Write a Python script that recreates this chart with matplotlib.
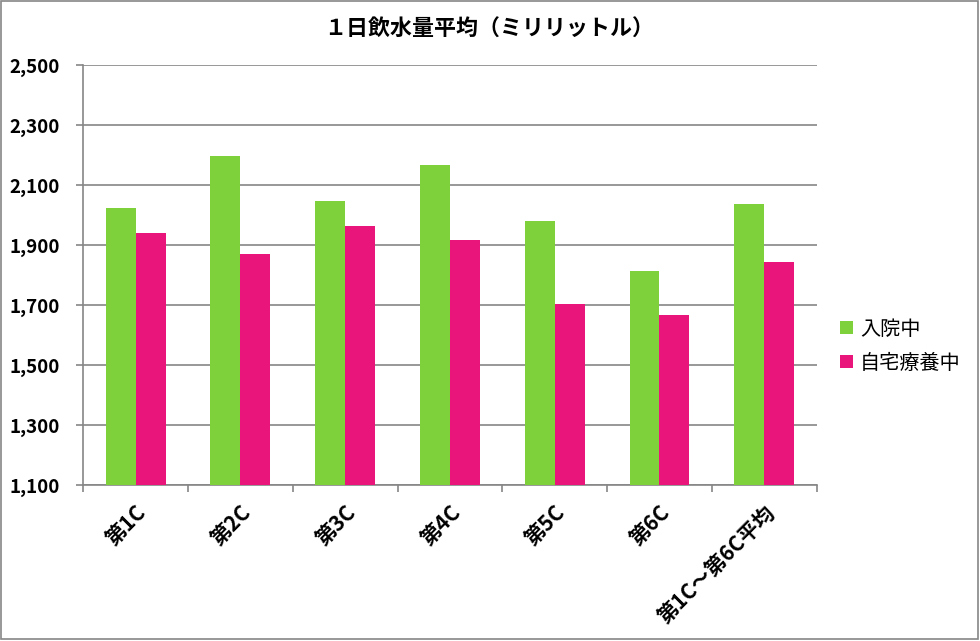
import matplotlib
matplotlib.use("Agg")
import matplotlib.pyplot as plt
import numpy as np
from matplotlib.patches import Rectangle

plt.rcParams['font.family'] = ['Noto Sans CJK JP', 'DejaVu Sans']

categories = ["第1C", "第2C", "第3C", "第4C", "第5C", "第6C", "第1C～第6C平均"]
nyuuin = [2024, 2197, 2047, 2167, 1981, 1814, 2037]
jitaku = [1941, 1870, 1964, 1917, 1704, 1667, 1844]
series_names = ["入院中", "自宅療養中"]
y_ticks = [1100, 1300, 1500, 1700, 1900, 2100, 2300, 2500]

GREEN = "#7FD13B"
PINK = "#EA157A"
GRID = "#868686"

fig = plt.figure(figsize=(9.8, 6.41), dpi=100)
ax = fig.add_axes([0.085, 0.2434, 0.7483, 0.6548])

x = np.arange(len(categories))
w = 0.286
ax.bar(x - w / 2, nyuuin, width=w, color=GREEN, label=series_names[0], zorder=3)
ax.bar(x + w / 2, jitaku, width=w, color=PINK, label=series_names[1], zorder=3)

ax.set_xlim(-0.5, len(categories) - 0.5)
ax.set_ylim(1100, 2500)
ax.set_yticks(y_ticks)
ax.set_yticklabels([f"{v:,}" for v in y_ticks], fontsize=13.5, fontweight='bold')
ax.yaxis.grid(True, color=GRID, linewidth=1.2, zorder=0)
ax.tick_params(axis='y', length=5, width=1.2, color=GRID, pad=12)

ax.set_xticks(x)
ax.set_xticklabels(categories, rotation=45, ha='right', rotation_mode='anchor',
                   fontsize=15, fontweight='bold')
ax.set_xticks(np.arange(-0.5, len(categories)), minor=True)
ax.tick_params(axis='x', which='major', length=0, pad=12)
ax.tick_params(axis='x', which='minor', length=5, width=1.2, color=GRID)

for s in ['top', 'right']:
    ax.spines[s].set_visible(False)
for s in ['left', 'bottom']:
    ax.spines[s].set_color(GRID)
    ax.spines[s].set_linewidth(1.2)

fig.text(0.499, 0.955, "１日飲水量平均（ミリリットル）", ha='center', va='center',
         fontsize=15.8, fontweight='bold')

fig.legend(loc='center left', bbox_to_anchor=(0.849, 0.46), frameon=False,
           fontsize=14.5, handlelength=0.65, handleheight=0.65, handletextpad=0.35,
           labelspacing=0.65, borderaxespad=0)

fig.patches.append(Rectangle((0.001, 0.003), 0.997, 0.995, transform=fig.transFigure,
                             fill=False, edgecolor=GRID, linewidth=1.2))

fig.savefig("out.png", dpi=100)
